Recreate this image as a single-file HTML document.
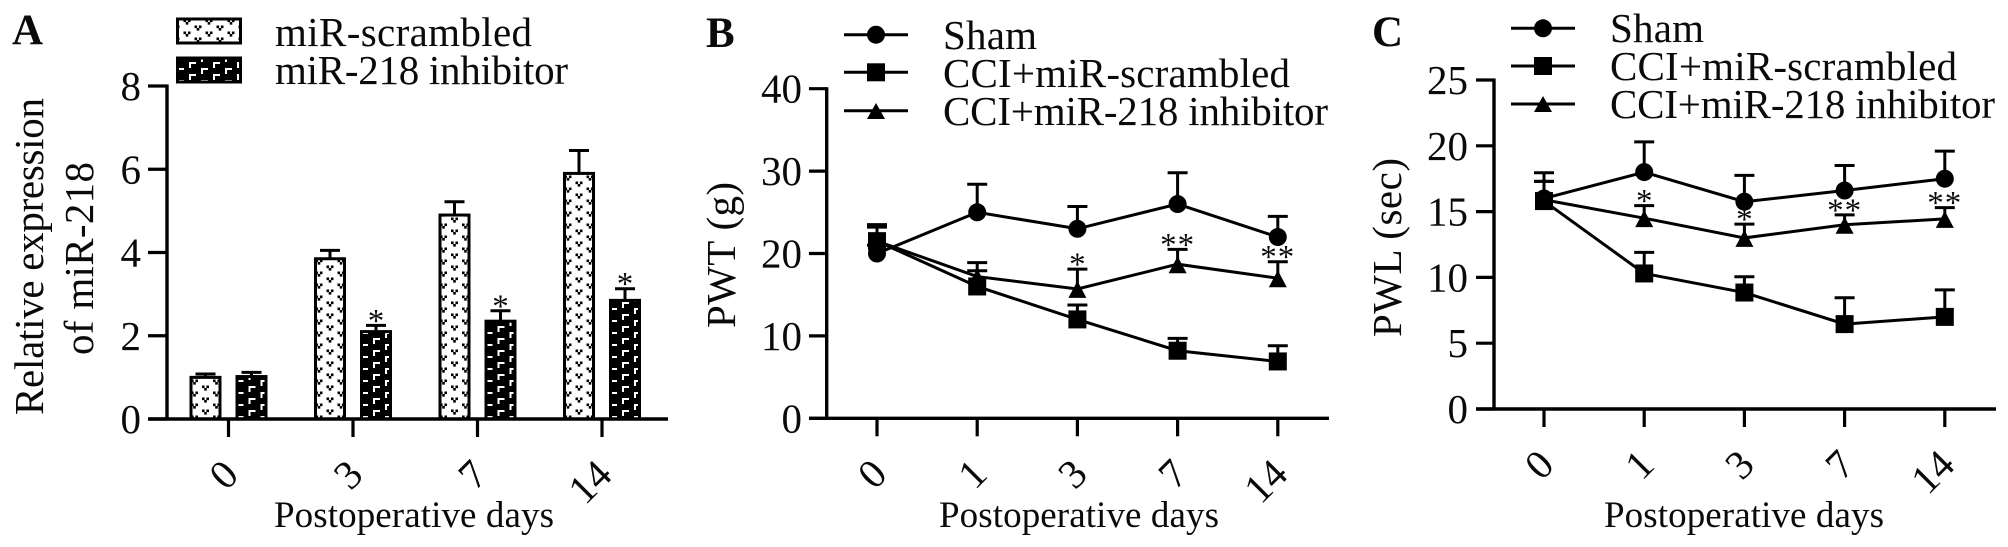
<!DOCTYPE html>
<html lang="en">
<head>
<meta charset="utf-8">
<title>miR-218 expression, PWT and PWL</title>
<style>
html,body{margin:0;padding:0;background:#fff;}
svg{display:block;}
text{font-family:"Liberation Serif",serif;fill:#0a0a0a;}
.lbl{font-size:41px;}
.xt{font-size:37px;}
.pn{font-size:43px;font-weight:bold;}
</style>
</head>
<body>
<svg id="fig" xmlns="http://www.w3.org/2000/svg" width="2008" height="547" viewBox="0 0 2008 547">
<defs>
<pattern id="dotFill" patternUnits="userSpaceOnUse" width="22" height="12">
<rect width="22" height="12" fill="#fff"/>
<path d="M-3.5 1.5h2.6v2.6h-2.6zM.9 1.5h2.6v2.6h-2.6zM-1.3 4h2.6v2.6h-2.6zM18.5 1.5h2.6v2.6h-2.6zM22.9 1.5h2.6v2.6h-2.6zM20.7 4h2.6v2.6h-2.6zM7.5 7.5h2.6v2.6h-2.6zM11.9 7.5h2.6v2.6h-2.6zM9.7 10h2.6v2.6h-2.6zM9.7 -2h2.6v2.6h-2.6z" fill="#000"/>
</pattern>
<pattern id="brickFill" patternUnits="userSpaceOnUse" width="24" height="12">
<rect width="24" height="12" fill="#000"/>
<path d="M-3 2h7v2h-5v4h-2zM21 2h7v2h-5v4h-2zM9 8h7v2h-5v4h-2zM9 -4h7v2h-5v4h-2z" fill="#fff"/>
</pattern>
</defs>

<text class="pn" x="12" y="44">A</text>
<text class="pn" x="706" y="47">B</text>
<text class="pn" x="1372" y="46">C</text>

<rect x="177.5" y="19" width="63" height="24" fill="url(#dotFill)" stroke="#000" stroke-width="3"/>
<rect x="177.5" y="58" width="63" height="24" fill="url(#brickFill)" stroke="#000" stroke-width="3"/>
<text class="lbl" x="275" y="46" textLength="257" lengthAdjust="spacing">miR-scrambled</text>
<text class="lbl" x="275" y="84" textLength="293" lengthAdjust="spacing">miR-218 inhibitor</text>

<text class="lbl" transform="translate(43,415) rotate(-90)" textLength="317" lengthAdjust="spacing">Relative expression</text>
<text class="lbl" transform="translate(93,355) rotate(-90)" textLength="193" lengthAdjust="spacing">of miR-218</text>
<text class="xt" x="274" y="527" textLength="280" lengthAdjust="spacing">Postoperative days</text>

<g>
<path d="M844 34.7H908M844 72.3H908M844 110.7H908" stroke="#000" stroke-width="3" fill="none"/>
<circle cx="876" cy="34.7" r="9" fill="#000"/>
<rect x="867" y="63.3" width="18" height="18" fill="#000"/>
<polygon points="876,103 885,119 867,119" fill="#000"/>
<text class="lbl" x="943" y="49" textLength="94" lengthAdjust="spacing">Sham</text>
<text class="lbl" x="943" y="87" textLength="347" lengthAdjust="spacing">CCI+miR-scrambled</text>
<text class="lbl" x="943" y="125" textLength="385" lengthAdjust="spacing">CCI+miR-218 inhibitor</text>
</g>
<text class="lbl" transform="translate(735,328) rotate(-90)" textLength="146" lengthAdjust="spacing">PWT (g)</text>
<text class="xt" x="939" y="527" textLength="280" lengthAdjust="spacing">Postoperative days</text>

<g>
<path d="M1511 28.3H1575M1511 66H1575M1511 104H1575" stroke="#000" stroke-width="3" fill="none"/>
<circle cx="1543" cy="28.3" r="9" fill="#000"/>
<rect x="1534" y="57" width="18" height="18" fill="#000"/>
<polygon points="1543,96 1552,112 1534,112" fill="#000"/>
<text class="lbl" x="1610" y="42" textLength="94" lengthAdjust="spacing">Sham</text>
<text class="lbl" x="1610" y="80" textLength="347" lengthAdjust="spacing">CCI+miR-scrambled</text>
<text class="lbl" x="1610" y="118" textLength="385" lengthAdjust="spacing">CCI+miR-218 inhibitor</text>
</g>
<text class="lbl" transform="translate(1401,337) rotate(-90)" textLength="179" lengthAdjust="spacing">PWL (sec)</text>
<text class="xt" x="1604" y="527" textLength="280" lengthAdjust="spacing">Postoperative days</text>
</svg>

<script>
// Panel A data
const aDays = ['0', '3', '7', '14'];
const aTicks = [0, 2, 4, 6, 8];
const aScrambled = [1.0, 3.85, 4.9, 5.9];
const aScrambledErr = [0.08, 0.2, 0.32, 0.55];
const aInhibitor = [1.02, 2.1, 2.35, 2.85];
const aInhibitorErr = [0.1, 0.15, 0.25, 0.28];
const aStars = ['', '*', '*', '*'];

// Panel B data
const bDays = ['0', '1', '3', '7', '14'];
const bTicks = [0, 10, 20, 30, 40];
const bSham = [20, 25, 23, 26, 22];
const bShamErr = [1, 3.4, 2.7, 3.8, 2.5];
const bScrambled = [21.5, 16, 12, 8.2, 6.9];
const bScrambledErr = [2, 1.9, 1.75, 1.5, 1.9];
const bInhibitor = [21.5, 17.2, 15.7, 18.7, 17];
const bInhibitorErr = [1.7, 1.7, 2.4, 1.8, 2];
const bStars = ['', '', '*', '**', '**'];

// Panel C data
const cDays = ['0', '1', '3', '7', '14'];
const cTicks = [0, 5, 10, 15, 20, 25];
const cSham = [16, 18, 15.75, 16.6, 17.5];
const cShamErr = [1.95, 2.3, 2, 1.9, 2.1];
const cScrambled = [15.8, 10.3, 8.85, 6.45, 7];
const cScrambledErr = [1.5, 1.6, 1.2, 2, 2.05];
const cInhibitor = [15.9, 14.5, 13, 14, 14.45];
const cInhibitorErr = [1.4, 0.95, 1.05, 0.75, 0.85];
const cStars = ['', '*', '*', '**', '**'];

const NS = 'http://www.w3.org/2000/svg';
const fig = document.getElementById('fig');

function make(parent, tag, attrs, text) {
  const node = document.createElementNS(NS, tag);
  for (const key in attrs) node.setAttribute(key, attrs[key]);
  if (text !== undefined) node.textContent = text;
  parent.appendChild(node);
  return node;
}

function linear(d0, d1, r0, r1) {
  return function (v) { return r0 + (v - d0) * (r1 - r0) / (d1 - d0); };
}

function drawAxes(prefix, g, o) {
  const yAxis = make(g, 'line', { x1: o.axisX, x2: o.axisX, y1: o.top - 1.5, y2: o.base, stroke: '#000', 'stroke-width': 3.4 });
  
  
  const xAxis = make(g, 'line', { x1: o.left, x2: o.right, y1: o.base, y2: o.base, stroke: '#000', 'stroke-width': 3.4 });
  
  
  o.yTicks.forEach(function (t) {
    const y = o.y(t);
    const tick = make(g, 'line', { x1: o.left, x2: o.axisX, y1: y, y2: y, stroke: '#000', 'stroke-width': 3.2 });
    
    
    const label = make(g, 'text', { x: o.labelX, y: y + 14, 'text-anchor': 'end', 'font-size': 41 }, String(t));
    
    
  });
  o.days.forEach(function (d, i) {
    const x = o.x(i);
    const tick = make(g, 'line', { x1: x, x2: x, y1: o.base, y2: o.base + 18, stroke: '#000', 'stroke-width': 3.2 });
    
    
    const ay = o.base + 58;
    const label = make(g, 'text', { 'text-anchor': 'end', 'font-size': 41, transform: 'translate(' + (x + 12) + ',' + ay + ') rotate(-45)' }, d);
    
    
  });
}

function drawError(g, name, x, y0, y1) {
  const stem = make(g, 'line', { x1: x, x2: x, y1: y0, y2: y1, stroke: '#000', 'stroke-width': 3 });
  
  
  const cap = make(g, 'line', { x1: x - 10, x2: x + 10, y1: y1, y2: y1, stroke: '#000', 'stroke-width': 3 });
  
  
}

function drawStar(g, name, x, errTop, s) {
  if (!s) return;
  const star = make(g, 'text', { x: x, y: errTop + 6, 'text-anchor': 'middle', 'font-size': 33, 'letter-spacing': s.length > 1 ? 1 : 0 }, s);
  
  
}

function drawMarker(g, name, kind, x, y) {
  let m;
  if (kind === 'circle') {
    m = make(g, 'circle', { cx: x, cy: y, r: 9, fill: '#000' });
  } else if (kind === 'square') {
    m = make(g, 'rect', { x: x - 9, y: y - 9, width: 18, height: 18, fill: '#000' });
  } else {
    m = make(g, 'polygon', { points: x + ',' + (y - 8) + ' ' + (x + 9) + ',' + (y + 9) + ' ' + (x - 9) + ',' + (y + 9), fill: '#000' });
  }
  
  
}

// ---------- Panel A bars ----------
(function () {
  const g = make(fig, 'g', {});
  
  
  const y = linear(0, 8, 419, 86);
  const x = linear(0, 1, 228.5, 353);
  function drawBars(vals, errs, dx, fill, key, stars) {
    vals.forEach(function (v, i) {
      const cx = x(i) + dx;
      const name = 'bar-' + key + '-day-' + aDays[i];
      const errTop = y(v + errs[i]);
      drawError(g, name, cx, y(v), errTop);
      const bar = make(g, 'rect', { transform: 'translate(' + cx + ',0)', x: -14.5, y: y(v), width: 29, height: y(0) - y(v), fill: fill, stroke: '#000', 'stroke-width': 3 });
      
      
      if (stars) drawStar(g, name, cx, errTop, stars[i]);
    });
  }
  drawBars(aScrambled, aScrambledErr, -23, 'url(#dotFill)', 'mir-scrambled', null);
  drawBars(aInhibitor, aInhibitorErr, 23, 'url(#brickFill)', 'mir-218-inhibitor', aStars);
  drawAxes('panel-a', g, { axisX: 167, left: 148, right: 668, base: 419, top: 86, y: y, x: x, yTicks: aTicks, days: aDays, labelX: 141 });
})();

// ---------- Line panels ----------
function drawLinePanel(prefix, o) {
  const g = make(fig, 'g', {});
  
  
  o.series.forEach(function (s) {
    s.vals.forEach(function (v, i) {
      const name = prefix + '-' + s.key + '-day-' + o.days[i];
      const errTop = o.y(v + s.errs[i]);
      drawError(g, name, o.x(i), o.y(v), errTop);
      if (s.stars) drawStar(g, name, o.x(i), errTop, s.stars[i]);
    });
  });
  o.series.forEach(function (s) {
    const pts = s.vals.map(function (v, i) { return o.x(i) + ',' + o.y(v); }).join(' ');
    const line = make(g, 'polyline', { points: pts, fill: 'none', stroke: '#000', 'stroke-width': 3 });
    
    
    s.vals.forEach(function (v, i) {
      drawMarker(g, prefix + '-' + s.key + '-day-' + o.days[i], s.kind, o.x(i), o.y(v));
    });
  });
  drawAxes(prefix, g, o);
}

drawLinePanel('panel-b', {
  axisX: 826.7, left: 809, right: 1329, base: 418.3, top: 88.7,
  y: linear(0, 40, 418.3, 88.7), x: linear(0, 1, 877, 977.2),
  yTicks: bTicks, days: bDays, labelX: 802,
  series: [
    { key: 'sham', kind: 'circle', vals: bSham, errs: bShamErr },
    { key: 'scrambled', kind: 'square', vals: bScrambled, errs: bScrambledErr },
    { key: 'inhibitor', kind: 'triangle', vals: bInhibitor, errs: bInhibitorErr, stars: bStars }
  ]
});

drawLinePanel('panel-c', {
  axisX: 1494, left: 1476, right: 1996, base: 409, top: 80,
  y: linear(0, 25, 409, 80), x: linear(0, 1, 1544, 1644.2),
  yTicks: cTicks, days: cDays, labelX: 1468,
  series: [
    { key: 'sham', kind: 'circle', vals: cSham, errs: cShamErr },
    { key: 'scrambled', kind: 'square', vals: cScrambled, errs: cScrambledErr },
    { key: 'inhibitor', kind: 'triangle', vals: cInhibitor, errs: cInhibitorErr, stars: cStars }
  ]
});
</script>
</body>
</html>
